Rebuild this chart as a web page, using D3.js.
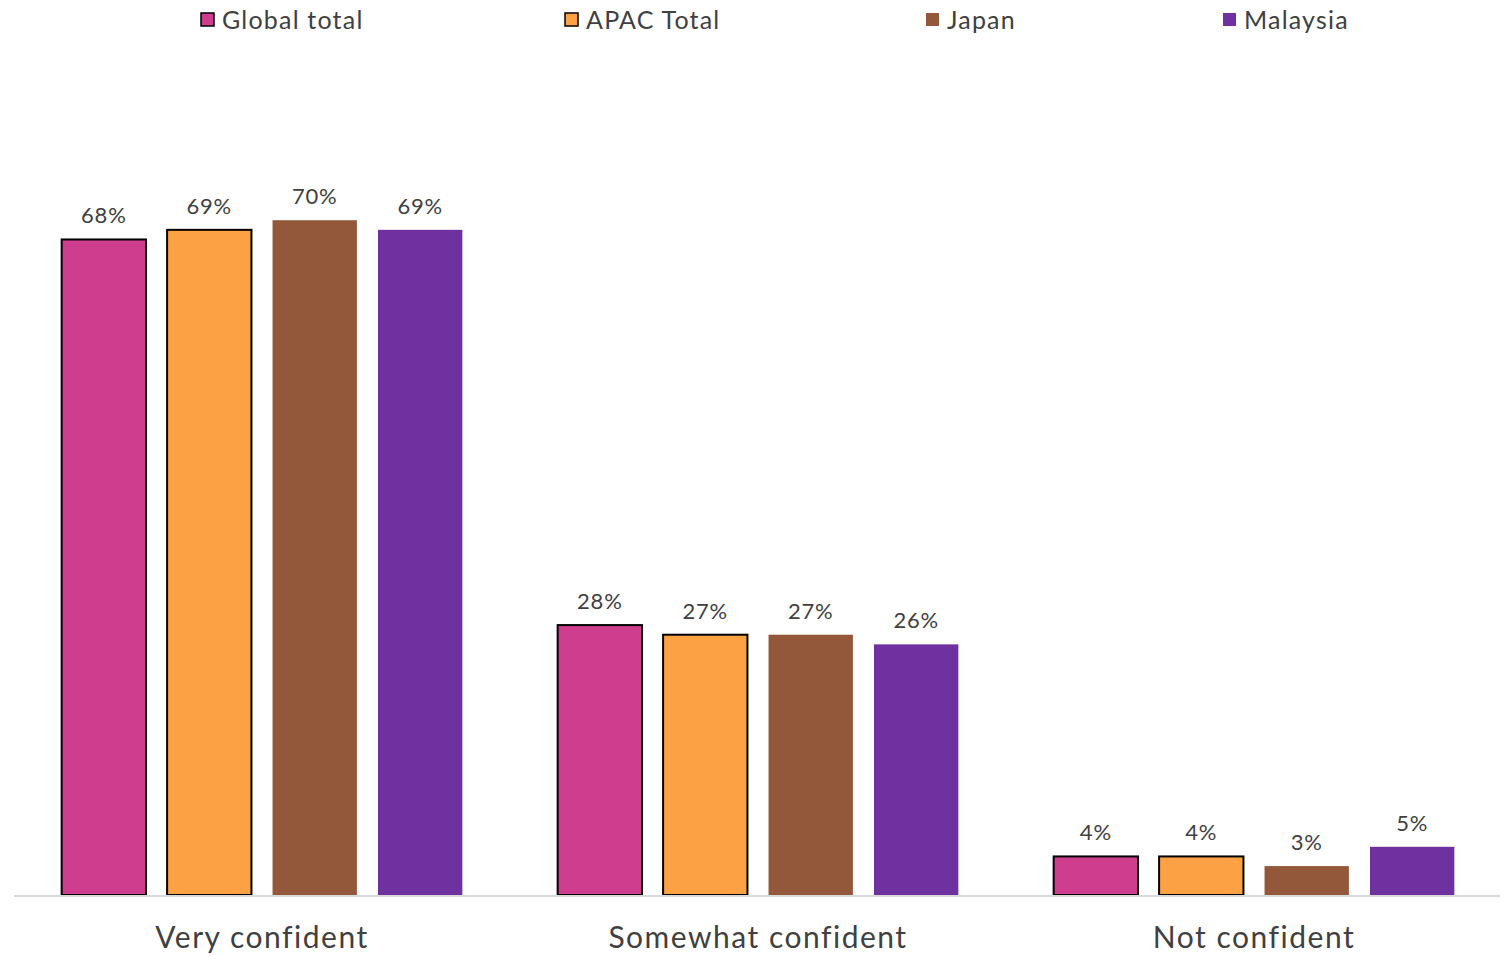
<!DOCTYPE html>
<html>
<head>
<meta charset="utf-8">
<script src="https://cdn.jsdelivr.net/npm/d3@7"></script>
<style>
  body { margin: 0; background: #ffffff; }
  text { font-family: Lato, "Noto Sans", sans-serif; fill: #404040; }
</style>
</head>
<body>
<svg></svg>
<script>
// Chart data
let categories = ['Very confident', 'Somewhat confident', 'Not confident'];
let seriesNames = ['Global total', 'APAC Total', 'Japan', 'Malaysia'];
let globalTotal = [68, 28, 4];
let apacTotal = [69, 27, 4];
let japan = [70, 27, 3];
let malaysia = [69, 26, 5];

// Colours and outlines per series
let colors = ['#cf3d8e', '#fda244', '#93583a', '#6f30a0'];
let outlined = [true, true, false, false];

let width = 1503, height = 956;
let baseline = 895;

let svg = d3.select('svg').attr('width', width).attr('height', height);

let values = [globalTotal, apacTotal, japan, malaysia];

// Rows for the grouped bars
let rows = [];
categories.forEach((c, ci) => {
    seriesNames.forEach((s, si) => {
        rows.push({ category: c, series: s, si: si, value: values[si][ci] });
    });
});

// Scales
let x0 = d3.scaleBand()
    .domain(categories)
    .range([14, 1502])
    .padding(0);

let x1 = d3.scaleBand()
    .domain(seriesNames)
    .range([0, x0.bandwidth()])
    .paddingInner(0.2)
    .paddingOuter(0.452);

let y = d3.scaleLinear()
    .domain([0, 80])
    .range([baseline, baseline - 80 * 9.64]);

// Bars
svg.append('g')
    .selectAll('rect')
    .data(rows)
    .enter()
    .append('rect')
    .attr('x', (d) => x0(d.category) + x1(d.series))
    .attr('y', (d) => y(d.value))
    .attr('width', x1.bandwidth())
    .attr('height', (d) => baseline - y(d.value))
    .attr('fill', (d) => colors[d.si])
    .attr('stroke', (d) => outlined[d.si] ? '#000000' : 'none')
    .attr('stroke-width', 2);

// Data labels
svg.append('g')
    .selectAll('text')
    .data(rows)
    .enter()
    .append('text')
    .attr('x', (d) => x0(d.category) + x1(d.series) + x1.bandwidth() / 2)
    .attr('y', (d) => y(d.value) - 16)
    .attr('text-anchor', 'middle')
    .style('font-size', '22px')
    .style('letter-spacing', '0.8px')
    .attr('fill', '#4a4a4a')
    .text((d) => d.value + '%');

// Category axis
let xAxis = d3.axisBottom(x0).tickSize(0).tickPadding(0);
let gx = svg.append('g')
    .attr('transform', `translate(0, ${baseline})`)
    .call(xAxis);
gx.select('.domain').remove();
gx.selectAll('text')
    .attr('dy', null)
    .attr('y', 53)
    .style('font-size', '30px')
    .style('letter-spacing', '1.5px')
    .style('font-family', 'Lato, "Noto Sans", sans-serif')
    .attr('fill', '#404040');

// Baseline line
svg.append('line')
    .attr('x1', 14)
    .attr('x2', 1500)
    .attr('y1', baseline + 1)
    .attr('y2', baseline + 1)
    .attr('stroke', '#d9d9d9')
    .attr('stroke-width', 2);

// Legend
let legendX = [200, 564, 925, 1222];
let legend = svg.append('g')
    .selectAll('g')
    .data(seriesNames)
    .enter()
    .append('g')
    .attr('transform', (d, i) => `translate(${legendX[i]}, 0)`);

legend.append('rect')
    .attr('x', 1)
    .attr('y', 13)
    .attr('width', 13)
    .attr('height', 13)
    .attr('fill', (d, i) => colors[i])
    .attr('stroke', (d, i) => outlined[i] ? '#000000' : 'none')
    .attr('stroke-width', 1.5);

legend.append('text')
    .attr('x', 22)
    .attr('y', 29)
    .style('font-size', '25px')
    .style('letter-spacing', '1.2px')
    .attr('fill', '#404040')
    .text((d) => d);
</script>
</body>
</html>
